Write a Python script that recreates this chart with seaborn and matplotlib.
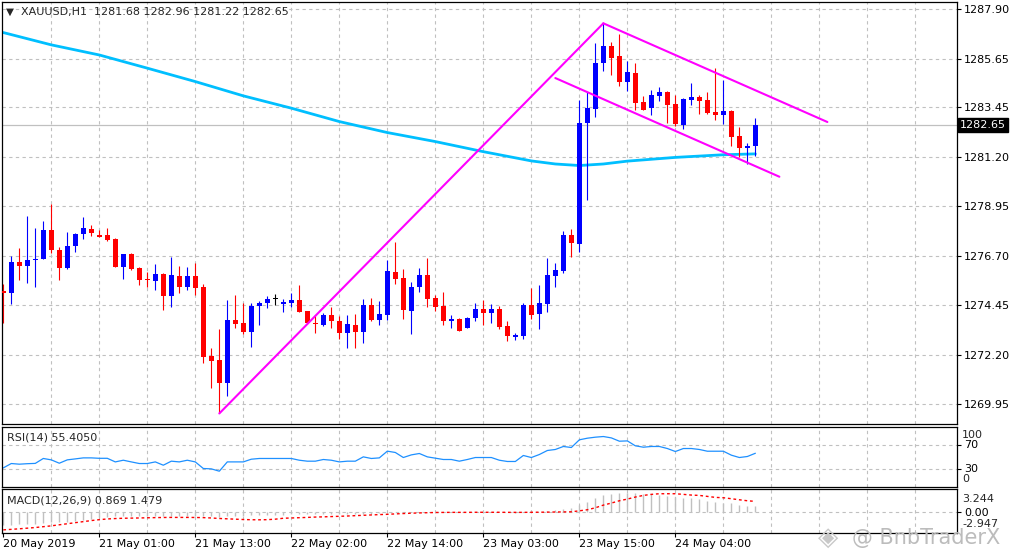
import matplotlib
matplotlib.use('Agg')
import matplotlib.pyplot as plt
import matplotlib.transforms as mtransforms
import numpy as np
import seaborn as sns

# XAUUSD H1 bars
opens = [1275.09, 1275.01, 1276.41, 1276.24, 1276.50, 1276.55, 1277.87, 1276.97, 1276.15, 1277.14,
         1277.68, 1277.91, 1277.64, 1277.64, 1277.46, 1276.20, 1276.77, 1276.15, 1275.64, 1275.56,
         1275.86, 1274.88, 1275.77, 1275.29, 1275.77, 1275.29, 1272.13, 1271.95, 1270.92, 1273.77,
         1273.65, 1273.24, 1274.41, 1274.56, 1274.71, 1274.51, 1274.56, 1274.68, 1274.18, 1273.65,
         1273.54, 1274.00, 1273.72, 1273.20, 1273.54, 1273.24, 1274.45, 1273.77, 1274.00, 1275.95,
         1275.68, 1274.18, 1275.27, 1275.82, 1274.77, 1274.41, 1273.72, 1273.82, 1273.42, 1273.87,
         1274.27, 1274.09, 1274.27, 1273.51, 1273.01, 1273.06, 1274.45, 1274.04, 1274.50, 1275.77,
         1276.00, 1277.64, 1277.23, 1282.72, 1283.36, 1285.45, 1286.24, 1285.79, 1284.62, 1285.01,
         1283.69, 1283.42, 1283.97, 1284.15, 1283.60, 1282.65, 1283.78, 1283.92, 1283.78, 1283.24,
         1283.10, 1283.28, 1282.15, 1281.61, 1281.68]
highs = [1275.41, 1276.68, 1277.05, 1278.50, 1277.96, 1278.28, 1279.05, 1277.09, 1277.78, 1277.74,
         1278.46, 1278.08, 1277.87, 1277.96, 1277.48, 1276.77, 1276.82, 1276.20, 1275.95, 1276.32,
         1275.92, 1276.64, 1276.23, 1276.20, 1276.36, 1275.41, 1272.51, 1273.36, 1274.68, 1274.92,
         1274.56, 1274.53, 1274.63, 1274.86, 1274.95, 1274.74, 1275.00, 1275.36, 1274.20, 1274.00,
         1274.07, 1274.38, 1273.95, 1274.00, 1274.04, 1274.73, 1274.77, 1274.63, 1276.50, 1277.32,
         1276.09, 1275.50, 1276.14, 1276.59, 1274.91, 1275.04, 1274.00, 1273.86, 1273.90, 1274.54,
         1274.68, 1274.50, 1274.41, 1273.72, 1273.19, 1274.54, 1275.23, 1275.36, 1276.59, 1276.36,
         1277.82, 1277.91, 1283.78, 1284.16, 1286.36, 1287.27, 1286.42, 1286.79, 1285.56, 1285.47,
         1283.97, 1284.24, 1284.38, 1284.17, 1284.01, 1283.87, 1284.56, 1284.01, 1284.15, 1285.24,
         1284.69, 1283.33, 1282.55, 1281.83, 1282.96]
lows = [1273.65, 1274.50, 1275.59, 1275.47, 1275.26, 1276.53, 1276.83, 1275.60, 1276.08, 1276.88,
        1277.44, 1277.61, 1277.53, 1277.38, 1276.18, 1275.65, 1276.03, 1275.36, 1275.29, 1275.14,
        1274.24, 1274.38, 1275.01, 1275.14, 1274.91, 1271.80, 1270.69, 1269.52, 1270.31, 1273.42,
        1273.13, 1272.55, 1273.54, 1274.30, 1274.47, 1274.15, 1274.35, 1274.15, 1273.60, 1273.19,
        1273.50, 1273.42, 1272.91, 1272.51, 1272.51, 1272.74, 1273.74, 1273.54, 1273.77, 1275.41,
        1273.83, 1273.13, 1275.04, 1274.36, 1274.18, 1273.54, 1273.42, 1273.27, 1273.40, 1273.74,
        1273.54, 1273.63, 1273.36, 1272.81, 1272.87, 1272.91, 1273.82, 1273.36, 1274.13, 1275.27,
        1275.91, 1276.64, 1276.87, 1279.23, 1283.02, 1285.10, 1284.92, 1284.42, 1284.19, 1283.33,
        1283.33, 1283.10, 1283.74, 1282.74, 1282.60, 1282.46, 1283.56, 1283.15, 1283.15, 1282.87,
        1282.69, 1281.69, 1281.19, 1280.87, 1281.22]
closes = [1275.01, 1276.41, 1276.24, 1276.50, 1276.55, 1277.87, 1276.97, 1276.15, 1277.14, 1277.68,
          1277.96, 1277.72, 1277.56, 1277.43, 1276.20, 1276.77, 1276.11, 1275.60, 1275.60, 1275.86,
          1274.88, 1275.82, 1275.29, 1275.77, 1275.24, 1272.10, 1271.92, 1270.92, 1273.77, 1273.60,
          1273.24, 1274.41, 1274.56, 1274.73, 1274.71, 1274.60, 1274.68, 1274.15, 1273.62, 1273.59,
          1274.00, 1273.74, 1273.19, 1273.59, 1273.24, 1274.45, 1273.77, 1274.04, 1276.00, 1275.65,
          1274.23, 1275.27, 1275.82, 1274.73, 1274.36, 1273.72, 1273.82, 1273.27, 1273.87, 1274.27,
          1274.09, 1274.27, 1273.45, 1273.06, 1273.10, 1274.45, 1274.00, 1274.54, 1275.82, 1276.05,
          1277.64, 1277.27, 1282.72, 1283.41, 1285.45, 1286.24, 1285.71, 1284.62, 1285.06, 1283.66,
          1283.33, 1284.01, 1284.15, 1283.56, 1282.69, 1283.83, 1283.92, 1283.74, 1283.19, 1283.10,
          1283.28, 1282.10, 1281.60, 1281.68, 1282.65]

# moving average (cyan), sampled every few bars
ma_bars = [0, 6, 12, 18, 24, 30, 36, 42, 48, 54, 60, 66, 69, 72, 75, 78, 84, 90, 94]
ma_values = [1286.85, 1286.29, 1285.83, 1285.23, 1284.62, 1283.97, 1283.41, 1282.80, 1282.30, 1281.89,
             1281.43, 1281.01, 1280.87, 1280.80, 1280.87, 1281.00, 1281.17, 1281.29, 1281.33]

# hand-drawn channel lines: (bar, price) -> (bar, price)
trend_lines = [((27, 1269.52), (75, 1287.27)),
               ((75, 1287.27), (103, 1282.78)),
               ((69, 1284.78), (97, 1280.29))]

rsi_values = [31, 38.3, 37.2, 38, 38.5, 46.7, 44.4, 38.8, 44.4, 46, 47.7, 47.7, 47, 47, 41, 43.8, 41,
              38.3, 38.3, 41, 35.5, 42.2, 41, 43.8, 41, 30, 29.4, 25.5, 41, 41, 41, 45.5, 46.7, 46.7,
              46.7, 46.7, 46.7, 43.8, 42.2, 42.2, 45, 43.8, 41, 42.2, 42.2, 49.4, 46.7, 47.7, 58.9,
              56.7, 48.3, 52.7, 55, 49.4, 47.2, 45, 45, 42.2, 45, 48.3, 48.3, 48.3, 43.8, 41.7, 41.7,
              51.7, 48.3, 53.3, 60, 61.7, 66.7, 65, 77.8, 80.5, 82.2, 83.3, 81, 75.5, 76, 67.8, 65.5,
              66.7, 66.7, 63.3, 58.3, 63.3, 63.3, 61.7, 58.8, 58.8, 58.8, 52.2, 48.3, 50, 55.4]

macd_main = [-1.9, -1.85, -1.8, -1.75, -1.7, -1.6, -1.5, -1.45, -1.4, -1.3, -1.2, -1.0, -0.8, -0.7,
             -0.65, -0.6, -0.6, -0.6, -0.6, -0.55, -0.6, -0.55, -0.55, -0.55, -0.55, -0.6, -0.65,
             -0.7, -0.6, -0.55, -0.55, -0.5, -0.5, -0.45, -0.45, -0.4, -0.35, -0.35, -0.35, -0.35,
             -0.3, -0.3, -0.3, -0.3, -0.3, -0.25, -0.25, -0.2, -0.15, -0.1, -0.12, -0.1, -0.05,
             -0.05, -0.05, -0.06, -0.06, -0.08, -0.08, -0.05, -0.05, -0.05, -0.08, -0.1, -0.12,
             -0.05, -0.05, 0.0, 0.12, 0.22, 0.33, 0.48, 0.95, 1.33, 1.9, 2.33, 2.48, 2.62, 2.71,
             2.62, 2.48, 2.48, 2.33, 2.24, 2.1, 1.9, 1.9, 1.76, 1.57, 1.43, 1.29, 1.19, 0.95, 0.81,
             0.87]
macd_signal = [-2.57, -2.5, -2.42, -2.33, -2.24, -2.12, -2.0, -1.85, -1.7, -1.55, -1.4, -1.25, -1.12,
               -1.02, -0.96, -0.92, -0.9, -0.88, -0.85, -0.83, -0.81, -0.8, -0.8, -0.8, -0.81, -0.83,
               -0.88, -0.95, -1.0, -1.05, -1.1, -1.13, -1.14, -1.12, -1.05, -0.92, -0.88, -0.84,
               -0.8, -0.75, -0.72, -0.68, -0.64, -0.6, -0.55, -0.5, -0.45, -0.4, -0.36, -0.3, -0.25,
               -0.2, -0.16, -0.13, -0.1, -0.09, -0.08, -0.08, -0.08, -0.07, -0.07, -0.07, -0.07,
               -0.08, -0.08, -0.08, -0.07, -0.06, -0.05, -0.03, -0.02, 0.0, 0.14, 0.29, 0.57, 0.95,
               1.24, 1.57, 1.81, 2.1, 2.33, 2.48, 2.57, 2.57, 2.57, 2.48, 2.38, 2.33, 2.19, 2.05, 2.0,
               1.86, 1.71, 1.57, 1.48]

price_ticks = [1287.90, 1285.65, 1283.45, 1281.20, 1278.95, 1276.70, 1274.45, 1272.20, 1269.95]
time_ticks = [0, 12, 24, 36, 48, 60, 72, 84]
time_labels = ['20 May 2019', '21 May 01:00', '21 May 13:00', '22 May 02:00',
               '22 May 14:00', '23 May 03:00', '23 May 15:00', '24 May 04:00']
last_price = 1282.65
rsi_range = (0, 100)
macd_range = (-2.947, 3.244)

W, H = 1020, 556
GRID = dict(color='#c0c0c0', lw=0.8, ls=(0, (3, 3)), zorder=0)


def box(left, top, right, bottom):
    return [left / W, 1 - bottom / H, (right - left) / W, (bottom - top) / H]


def fpos(x, y):
    return x / W, 1 - y / H


sns.set_style('white')
plt.rcParams['font.family'] = ['DejaVu Sans']

fig = plt.figure(figsize=(W / 100, H / 100), dpi=100)
ax_main = fig.add_axes(box(2, 2, 957, 424))
ax_rsi = fig.add_axes(box(2, 426.5, 957, 486.5))
ax_macd = fig.add_axes(box(2, 489, 957, 532.5))

bars = np.arange(len(opens))
o, h, l, c = map(np.array, (opens, highs, lows, closes))
colors = np.where(c > o, '#0000ff', np.where(c < o, '#ff0000', '#000000'))

# main panel
for p in price_ticks:
    ax_main.axhline(p, **GRID)
ax_main.axhline(last_price, color='#c0c0c0', lw=0.9, zorder=0.5)
sns.lineplot(x=ma_bars, y=ma_values, ax=ax_main, color='#00bfff', lw=2.0, zorder=1)
ax_main.vlines(bars, l, h, colors=colors, lw=0.8, zorder=2)
bottoms = np.minimum(o, c)
heights = np.maximum(np.abs(c - o), 0.05)
ax_main.bar(bars, heights, bottom=bottoms, width=0.62, color=colors, linewidth=0, zorder=3)
for (x0, y0), (x1, y1) in trend_lines:
    ax_main.plot([x0, x1], [y0, y1], color='#ff00ff', lw=1.5, zorder=4)
ax_main.set_ylim(1269.04, 1288.24)
ax_main.set_yticks(price_ticks)
ax_main.set_yticklabels([f'{p:.2f}' for p in price_ticks])
trans = mtransforms.blended_transform_factory(ax_main.transAxes, ax_main.transData)
ax_main.text(1.003, last_price, f'{last_price:.2f}', transform=trans, color='white', fontsize=8,
             va='center', ha='left',
             bbox=dict(boxstyle='square,pad=0.2', fc='black', ec='black'))

# RSI panel
for p in [30, 70]:
    ax_rsi.axhline(p, **GRID)
sns.lineplot(x=bars, y=rsi_values, ax=ax_rsi, color='#1e90ff', lw=0.9)
ax_rsi.set_ylim(*rsi_range)
ax_rsi.set_yticks([70, 30])
ax_rsi.set_yticklabels(['70', '30'])

# MACD panel
ax_macd.axhline(0, **GRID)
ax_macd.vlines(bars, 0, macd_main, colors='#c0c0c0', lw=1.0, zorder=1)
sns.lineplot(x=bars, y=macd_signal, ax=ax_macd, color='#ff0000', lw=1.0,
             linestyle=(0, (2, 2)), zorder=2)
ax_macd.set_ylim(*macd_range)
ax_macd.set_yticks([0])
ax_macd.set_yticklabels(['0.00'])
ax_macd.set_xticks(time_ticks)
ax_macd.set_xticklabels(time_labels, ha='left')

for ax in (ax_main, ax_rsi, ax_macd):
    for k in range(6, 120, 6):
        ax.axvline(k, **GRID)
    ax.set_xlim(-0.16, 119.2)
    ax.set_xlabel('')
    ax.set_ylabel('')
    for s in ax.spines.values():
        s.set_color('black')
        s.set_linewidth(0.9)
    ax.yaxis.tick_right()
    ax.tick_params(axis='y', which='both', right=True, left=False, direction='out',
                   length=3, width=0.8, pad=2, labelsize=8, colors='black')
    if ax is ax_macd:
        ax.tick_params(axis='x', bottom=True, direction='out', length=3, width=0.8,
                       pad=2, labelsize=8, colors='black')
    else:
        ax.tick_params(axis='x', bottom=False, labelbottom=False)

# range labels that MT4 squeezes inside the indicator panels
fig.text(*fpos(962, 434.5), f'{rsi_range[1]}', fontsize=8, va='center', ha='left')
fig.text(*fpos(962, 479.5), f'{rsi_range[0]}', fontsize=8, va='center', ha='left')
fig.text(*fpos(962, 499), f'{macd_range[1]:.3f}', fontsize=8, va='center', ha='left')
fig.text(*fpos(962, 524), f'{macd_range[0]:.3f}', fontsize=8, va='center', ha='left')

# panel captions
fig.text(*fpos(6, 12), '\u25bc', fontsize=7.5, va='center', ha='left')
fig.text(*fpos(21, 12), 'XAUUSD,H1  1281.68 1282.96 1281.22 1282.65', fontsize=8,
         va='center', ha='left')
fig.text(*fpos(7, 437), 'RSI(14) 55.4050', fontsize=8, va='center', ha='left')
fig.text(*fpos(7, 500.5), 'MACD(12,26,9) 0.869 1.479', fontsize=8, va='center', ha='left')

# watermark
fig.text(*fpos(818, 538), '\u25c8', fontsize=19, color='#c8c8c8', va='center', ha='left')
fig.text(*fpos(852, 538), '@ BnbTraderX', fontsize=15, color='#bcbcbc', va='center', ha='left')

fig.savefig('out.png', dpi=100, facecolor='white')
